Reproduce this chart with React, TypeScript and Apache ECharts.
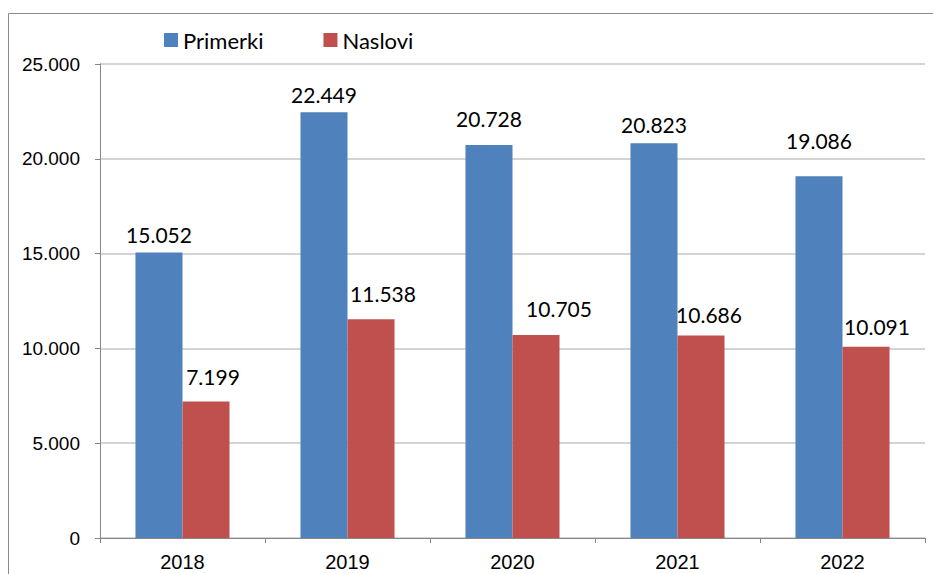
import React, { useEffect, useRef } from "react";
import * as echarts from "echarts";

const categories = ["2018", "2019", "2020", "2021", "2022"];
const primerki = [15052, 22449, 20728, 20823, 19086];
const naslovi = [7199, 11538, 10705, 10686, 10091];
const yTicks = { min: 0, max: 25000, interval: 5000 };

// label nudges (style only), [dx, dy] in px
const primerkiLabelNudge = [[0, -8], [0, -8], [0, -16], [0, -9], [0, -26]];
const nasloviLabelNudge = [[7, -15], [12, -16], [23, -17], [8, -11], [11, -10]];

const fmt = (v: number) => {
  const s = Math.round(v).toString();
  return s.replace(/\B(?=(\d{3})+(?!\d))/g, ".");
};

export default function App() {
  const ref = useRef<HTMLDivElement>(null);
  useEffect(() => {
    if (!ref.current) return;
    const chart = echarts.init(ref.current, undefined, { renderer: "svg" });
    const labelBase = {
      show: true,
      position: "top" as const,
      distance: 0,
      fontFamily: "Lato",
      fontSize: 21,
      lineHeight: 20,
      color: "#000",
      formatter: (p: any) => fmt(p.value),
    };
    chart.setOption({
      animation: false,
      backgroundColor: "#fff",
      textStyle: { fontFamily: "Liberation Sans" },
      graphic: [
        {
          type: "rect",
          shape: { x: 8.5, y: 13.5, width: 1000, height: 1000 },
          style: { fill: "none", stroke: "#8a8a8a", lineWidth: 1 },
          silent: true,
        },
      ],
      legend: {
        top: 29,
        left: 164,
        padding: 0,
        itemGap: 60,
        itemWidth: 14,
        itemHeight: 14,
        icon: "rect",
        textStyle: { fontFamily: "Lato", fontSize: 22, color: "#000", padding: [2, 0, 0, 0] },
        data: ["Primerki", "Naslovi"],
      },
      grid: { left: 100, top: 64, right: 8, bottom: 36, containLabel: false },
      xAxis: {
        type: "category",
        data: categories,
        axisLine: { lineStyle: { color: "#868686", width: 1 } },
        axisTick: { show: true, length: 5, inside: false, lineStyle: { color: "#868686" } },
        axisLabel: { color: "#000", fontSize: 20, margin: 14, fontFamily: "Liberation Sans" },
      },
      yAxis: {
        type: "value",
        min: yTicks.min,
        max: yTicks.max,
        interval: yTicks.interval,
        axisLine: { show: true, lineStyle: { color: "#868686", width: 1 } },
        axisTick: { show: true, length: 5, lineStyle: { color: "#868686" } },
        splitLine: { show: true, lineStyle: { color: "#c6c6c6", width: 1.5 } },
        axisLabel: {
          color: "#000",
          fontSize: 19,
          margin: 20,
          fontFamily: "Liberation Sans",
          formatter: (v: number) => fmt(v),
        },
      },
      series: [
        {
          name: "Primerki",
          type: "bar",
          barGap: "0%",
          barCategoryGap: "43%",
          itemStyle: { color: "#4F81BD" },
          data: primerki.map((v, i) => ({
            value: v,
            label: { ...labelBase, offset: primerkiLabelNudge[i] },
          })),
          label: labelBase,
        },
        {
          name: "Naslovi",
          type: "bar",
          barGap: "0%",
          barCategoryGap: "43%",
          itemStyle: { color: "#C0504D" },
          data: naslovi.map((v, i) => ({
            value: v,
            label: { ...labelBase, offset: nasloviLabelNudge[i] },
          })),
          label: labelBase,
        },
      ],
    });
    return () => chart.dispose();
  }, []);
  return (
    <div
      ref={ref}
      style={{ position: "absolute", left: 0, top: 0, width: 933, height: 574 }}
    />
  );
}
